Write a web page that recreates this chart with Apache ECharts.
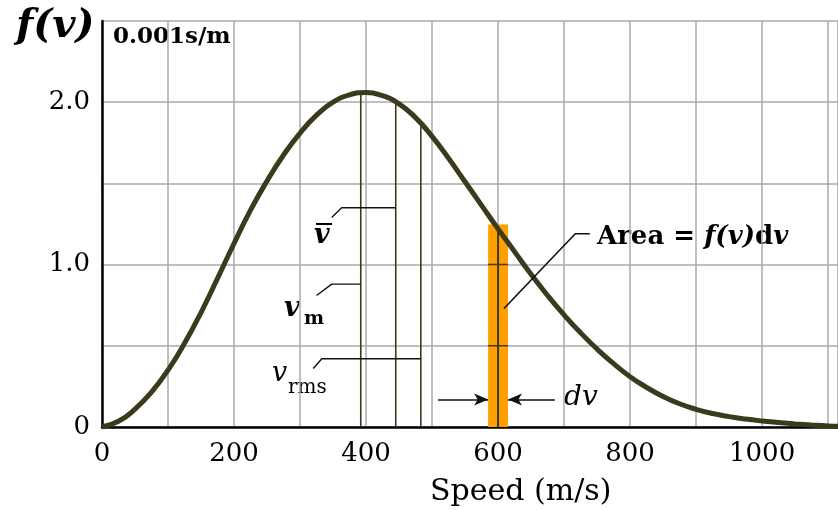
<!DOCTYPE html>
<html><head><meta charset="utf-8">
<script src="https://cdn.jsdelivr.net/npm/echarts@6/dist/echarts.min.js"></script>
<style>html,body{margin:0;padding:0;background:#fff}#c{width:838px;height:510px}</style>
</head><body><div id="c"></div>
<script>
// Speed values (m/s) and f(v) values (units of 0.001 s/m)
const speeds = [0,25,50,75,100,125,150,175,200,225,250,275,300,325,350,375,400,425,450,475,500,525,550,575,600,625,650,675,700,725,750,775,800,825,850,875,900,925,950,975,1000,1025,1050,1075,1100,1115];
const fv = [0,0.035,0.11,0.215,0.35,0.515,0.705,0.915,1.13,1.335,1.515,1.675,1.81,1.92,2.0,2.045,2.06,2.04,1.99,1.905,1.79,1.655,1.51,1.365,1.22,1.08,0.94,0.81,0.69,0.58,0.48,0.39,0.31,0.244,0.188,0.143,0.109,0.083,0.064,0.049,0.037,0.027,0.019,0.012,0.006,0.004];
const xTickLabels = ['0','200','400','600','800','1000'];
const yTickLabels = ['0','1.0','2.0'];
// characteristic speeds and their heights
const charSpeeds = [392, 445, 483];      // v_m, v-bar, v_rms
const charHeights = [2.06, 1.99, 1.85];
// leader lines
const vmeanLeader = [[348,1.29],[363,1.35],[445,1.35]];
const vmLeader = [[325,0.81],[348,0.88],[392,0.88]];
const vrmsLeader = [[320,0.36],[333,0.42],[483,0.42]];
const areaLeader = [[609,0.73],[717,1.19],[739,1.19]];
// strip dv
const strip = {left:585, right:615, top:1.247, center:600, lineTop:1.225};
const dvArrows = [[509,585],[686,615]];
const dvY = 0.17;

const ink = '#3b3a1c';
const serif = '"DejaVu Serif", "Liberation Serif", serif';

function seg(data, width, color, z) {
  return {type:'line', data:data, symbol:'none', silent:true, animation:false,
    lineStyle:{color:color||ink, width:width||1.5}, z:z||3};
}

const series = [];
series.push({
  type:'custom', data:[[strip.left, strip.right, strip.top]], z:2, silent:true, animation:false,
  renderItem:function(params, api){
    const p0 = api.coord([api.value(0), 0]);
    const p1 = api.coord([api.value(1), api.value(2)]);
    return {type:'rect', shape:{x:p0[0], y:p1[1], width:p1[0]-p0[0], height:p0[1]-p1[1]}, style:{fill:'#ff9f00'}};
  }
});
series.push(seg([[strip.left,0.5],[strip.right,0.5]], 1.5, ink, 3));
series.push(seg([[strip.left,1.0],[strip.right,1.0]], 1.5, ink, 3));
series.push(seg([[strip.center,0],[strip.center,strip.lineTop]], 2, ink, 3));
charSpeeds.forEach((v,i)=>series.push(seg([[v,0],[v,charHeights[i]]], 1.6, ink, 3)));
series.push(seg(vmeanLeader, 1.4, '#111', 3));
series.push(seg(vmLeader, 1.4, '#111', 3));
series.push(seg(vrmsLeader, 1.4, '#111', 3));
series.push(seg(areaLeader, 1.6, '#111', 6));
series.push({
  type:'line', data:speeds.map((s,i)=>[s,fv[i]]), smooth:true, symbol:'none', z:5,
  lineStyle:{color:ink, width:5}, animation:false, silent:true,
  markLine:{silent:true, symbol:['none','arrow'], symbolSize:[9,14], animation:false,
    lineStyle:{color:'#111', width:1.5, type:'solid'}, label:{show:false},
    data: dvArrows.map(a=>[{coord:[a[0],dvY]},{coord:[a[1],dvY]}])}
});

const chart = echarts.init(document.getElementById('c'), null, {renderer:'canvas'});
chart.setOption({
  animation:false,
  backgroundColor:'#fff',
  grid:{left:102, right:0, top:21, bottom:83, containLabel:false},
  xAxis:{type:'value', min:0, max:1115, interval:100,
    axisLine:{show:true, onZero:false, lineStyle:{color:'#000', width:2.5}},
    axisTick:{show:false},
    axisLabel:{formatter:v=>xTickLabels.includes(String(v))?String(v):'', showMaxLabel:false,
      fontFamily:serif, fontSize:26, color:'#000', margin:14},
    splitLine:{show:true, lineStyle:{color:'#aaaaaa', width:1.5}}},
  yAxis:{type:'value', min:0, max:2.5, interval:0.5,
    axisLine:{show:true, onZero:false, lineStyle:{color:'#000', width:2.5}},
    axisTick:{show:false},
    axisLabel:{formatter:v=>{const s=v===0?'0':v.toFixed(1);return yTickLabels.includes(s)?s:'';},
      fontFamily:serif, fontSize:26, color:'#000', margin:12},
    splitLine:{show:true, lineStyle:{color:'#aaaaaa', width:1.5}}},
  series:series,
  graphic:[
    {type:'text', left:16, top:7, style:{text:'f(v)', fontFamily:serif, fontStyle:'italic', fontWeight:'bold', fontSize:40, fill:'#000'}},
    {type:'text', left:113, top:26, style:{text:'0.001s/m', fontFamily:serif, fontWeight:'bold', fontSize:23, fill:'#000'}},
    {type:'text', left:430, top:477, style:{text:'Speed (m/s)', fontFamily:serif, fontSize:30, fill:'#000'}},
    {type:'text', left:597, top:224, style:{text:'{a|Area = }{b|f(v)}{a|d}{b|v}', rich:{
      a:{fontFamily:serif, fontWeight:'bold', fontSize:26, fill:'#000', color:'#000'},
      b:{fontFamily:serif, fontWeight:'bold', fontStyle:'italic', fontSize:26, fill:'#000', color:'#000'}}}},
    {type:'text', left:564, top:384, style:{text:'dv', fontFamily:serif, fontStyle:'italic', fontSize:28, fill:'#000'}},
    {type:'text', left:314, top:222, style:{text:'v', fontFamily:serif, fontStyle:'italic', fontWeight:'bold', fontSize:27, fill:'#000'}},
    {type:'line', shape:{x1:316, y1:224, x2:332, y2:224}, style:{stroke:'#000', lineWidth:2}},
    {type:'text', left:284, top:295, style:{text:'v', fontFamily:serif, fontStyle:'italic', fontWeight:'bold', fontSize:27, fill:'#000'}},
    {type:'text', left:304, top:310, style:{text:'m', fontFamily:serif, fontWeight:'bold', fontSize:19, fill:'#000'}},
    {type:'text', left:272, top:360, style:{text:'v', fontFamily:serif, fontStyle:'italic', fontSize:27, fill:'#000'}},
    {type:'text', left:288, top:378, style:{text:'rms', fontFamily:serif, fontSize:20, fill:'#000'}}
  ]
});
</script></body></html>
